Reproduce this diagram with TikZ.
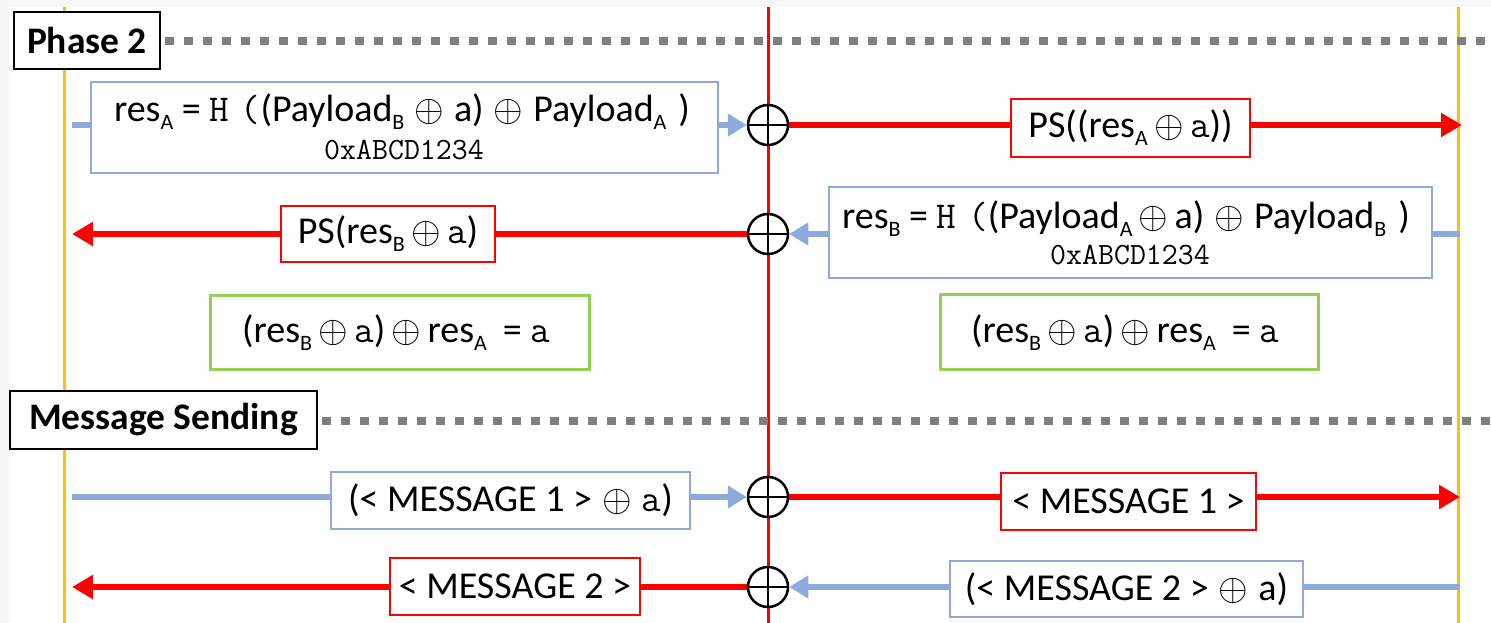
\documentclass[tikz,border=0pt]{standalone}
\usepackage{fix-cm}
\usepackage{fontspec}
\setmainfont{Carlito}
\newcommand\mono{\ttfamily}
\usetikzlibrary{arrows.meta}
\definecolor{bblue}{HTML}{8EAADB}
\definecolor{ggreen}{HTML}{92D050}
\definecolor{yyel}{HTML}{FFC000}
\definecolor{dgray}{HTML}{7F7F7F}
\definecolor{edge}{HTML}{F8F8F8}
\newcommand\sbs[1]{\raisebox{-8pt}{\fontsize{22}{22}\selectfont #1}}
\newcommand\xo{\,$\oplus$\,}
\newcommand\xw{\hspace{10pt}$\oplus$\hspace{10pt}}
\newcommand\hfn{{\mono H}\hspace{12pt}{\mono(}}
\pgfdeclarelayer{back}
\pgfdeclarelayer{bg}
\pgfsetlayers{back,bg,main}
\tikzset{
  x=1pt, y=-1pt,
  bx/.style={draw, line width=2pt, rectangle, inner sep=0pt, fill=white, font=\fontsize{38}{42}\selectfont},
  bluebox/.style={bx, draw=bblue},
  redbox/.style={bx, draw=red},
  greenbox/.style={bx, draw=ggreen, line width=3pt},
  hdr/.style={bx, draw=black, font=\fontsize{37.5}{40}\selectfont\bfseries},
  txt/.style={inner sep=0pt, font=\fontsize{38}{42}\selectfont},
  monotxt/.style={inner sep=0pt, font=\fontsize{31}{34}\selectfont\mono},
  xorc/.style={circle, draw=black, line width=2.5pt, minimum size=40pt, inner sep=0pt, fill=white,
    path picture={\draw[line width=2.5pt] (path picture bounding box.north) -- (path picture bounding box.south)
      (path picture bounding box.west) -- (path picture bounding box.east);}},
  redline/.style={draw=red, line width=6pt},
  redarr/.style={redline, -{Triangle[length=21pt,width=23pt]}},
  blueline/.style={draw=bblue, line width=6pt},
  bluearr/.style={blueline, -{Triangle[length=19pt,width=22pt]}},
  dots/.style={draw=dgray, line width=8pt, dash pattern=on 9pt off 10pt},
  vline/.style={line width=3pt},
}
\begin{document}
\begin{tikzpicture}
\begin{pgfonlayer}{back}
\fill[edge] (0,0) rectangle (1491,623);
\fill[white] (9,7) rectangle (1491,623);
\end{pgfonlayer}
\useasboundingbox (0,0) rectangle (1491,623);

% life lines
\coordinate (yLt) at (64,7);   \coordinate (yLb) at (64,623);
\coordinate (yRt) at (1458,7); \coordinate (yRb) at (1458,623);
\coordinate (rt) at (768,7);   \coordinate (rb) at (768,623);
\begin{pgfonlayer}{bg}
\draw[vline, draw=yyel] (yLt) -- (yLb);
\draw[vline, draw=yyel] (yRt) -- (yRb);
\draw[vline, draw=red] (rt) -- (rb);
\end{pgfonlayer}

% headers
\node[hdr, minimum width=146pt, minimum height=57pt] (ph) at (87,40.5) {Phase 2};
\coordinate (d1e) at (1491,41);
\draw[dots] (ph.east |- d1e) ++(4,0) -- (d1e);
\node[hdr, minimum width=307pt, minimum height=58pt] (ms) at (163.5,420) {Message Sending};
\coordinate (d2e) at (1491,421);
\draw[dots] (ms.east |- d2e) ++(4,0) -- (d2e);

% xor circles
\node[xorc] (c1) at (768,125) {};
\node[xorc] (c2) at (768,234) {};
\node[xorc] (c3) at (768,497) {};
\node[xorc] (c4) at (768,587) {};

% row 1
\node[bluebox, minimum width=627pt, minimum height=91pt] (b1) at (404.5,127.5) {};
\node[txt] (t1) at (402,112) {res\sbs{A} = \hfn(Payload\sbs{B}\xw a)\xw Payload\sbs{A}\hspace{12pt})};
\node[monotxt] (m1) at (404,150) {0xABCD1234};
\node[redbox, minimum width=239pt, minimum height=58pt] (r1) at (1130.5,128) {PS((res\sbs{A}\xo{\mono a}))};
\coordinate (s1) at (72,125);
\coordinate (e1) at (1462,125);
\begin{pgfonlayer}{bg}
\draw[blueline] (s1) -- (b1.west |- s1);
\draw[bluearr] (b1.east |- c1) -- (c1.west);
\draw[redarr] (c1.east) -- (e1);
\end{pgfonlayer}

% row 2
\node[redbox, minimum width=214pt, minimum height=56pt] (r2) at (388,234) {PS(res\sbs{B}\xo{\mono a})};
\node[bluebox, minimum width=603pt, minimum height=91pt] (b2) at (1130.5,232.5) {};
\node[txt] (t2) at (1126,219) {res\sbs{B} = \hfn(Payload\sbs{A}\xo a)\xw Payload\sbs{B}\hspace{12pt})};
\node[monotxt] (m2) at (1130,255) {0xABCD1234};
\coordinate (s2) at (1460,234);
\coordinate (e2) at (72,234);
\begin{pgfonlayer}{bg}
\draw[blueline] (s2) -- (b2.east |- s2);
\draw[bluearr] (b2.west |- c2) -- (c2.east);
\draw[redarr] (c2.west) -- (e2);
\end{pgfonlayer}

% result boxes
\node[greenbox, minimum width=379pt, minimum height=74pt] (g1) at (399.5,332) {};
\node[txt] (gt1) at (396,333) {(res\sbs{B}\xo{\mono a})\,$\oplus$\,res\sbs{A}\hspace{16pt}= {\mono a}};
\node[greenbox, minimum width=378pt, minimum height=75pt] (g2) at (1129,331.5) {};
\node[txt] (gt2) at (1125,333) {(res\sbs{B}\xo{\mono a})\,$\oplus$\,res\sbs{A}\hspace{16pt}= {\mono a}};

% row 3
\node[bluebox, minimum width=359pt, minimum height=57pt] (b3) at (510.5,500) {(< MESSAGE 1 >\xw{\mono a})};
\node[redbox, minimum width=255pt, minimum height=57pt] (r3) at (1128.5,501) {< MESSAGE 1 >};
\coordinate (s3) at (72,497);
\coordinate (e3) at (1460,497);
\begin{pgfonlayer}{bg}
\draw[blueline] (s3) -- (b3.west |- s3);
\draw[bluearr] (b3.east |- c3) -- (c3.west);
\draw[redarr] (c3.east) -- (e3);
\end{pgfonlayer}

% row 4
\node[redbox, minimum width=250pt, minimum height=57pt] (r4) at (515,586.5) {< MESSAGE 2 >};
\node[bluebox, minimum width=353pt, minimum height=56pt] (b4) at (1126.5,589) {(< MESSAGE 2 >\xw a)};
\coordinate (s4) at (1460,587);
\coordinate (e4) at (72,587);
\begin{pgfonlayer}{bg}
\draw[blueline] (s4) -- (b4.east |- s4);
\draw[bluearr] (b4.west |- c4) -- (c4.east);
\draw[redarr] (c4.west) -- (e4);
\end{pgfonlayer}
\end{tikzpicture}
\end{document}
